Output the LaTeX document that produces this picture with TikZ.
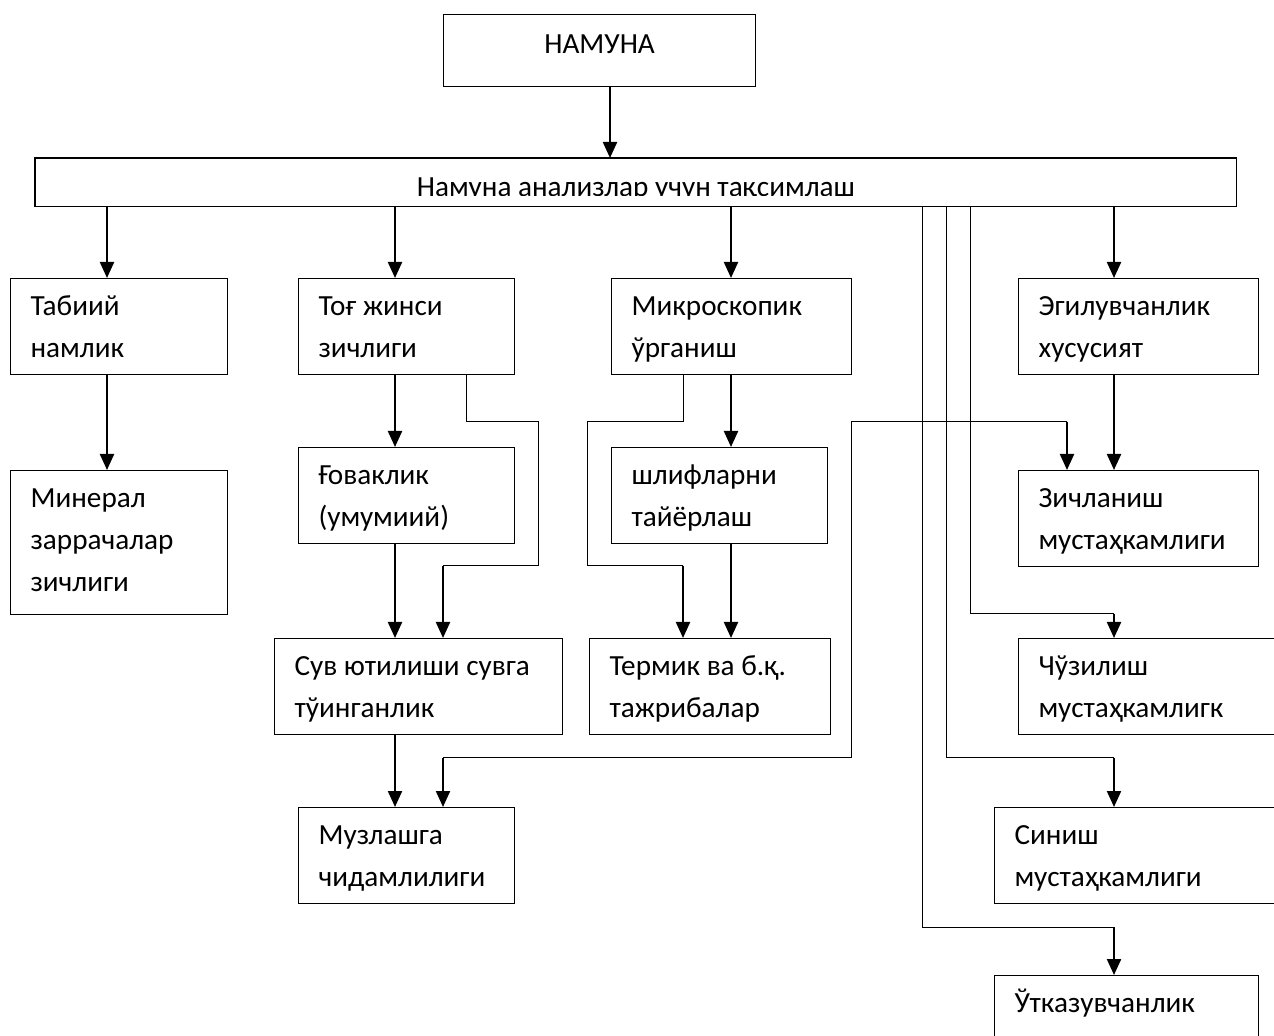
\documentclass[tikz,border=0pt]{standalone}
\usepackage{fontspec}
\setmainfont{Carlito}
\usetikzlibrary{arrows.meta}
\begin{document}
\begin{tikzpicture}[x=0.5pt,y=-0.5pt, font=\fontsize{14.6}{21}\selectfont,
  box/.style={draw, line width=0.6pt, inner xsep=10pt, inner ysep=0pt, align=flush left, anchor=north west, text height=18.5pt},
  two/.style={text depth=29.5pt},
  three/.style={text depth=53.5pt},
  arr/.style={line width=1.1pt, -{Triangle[length=8pt,width=7pt]}},
  link/.style={line width=0.5pt},
  boxline/.style={line width=0.6pt}]
\clip (0,0) rectangle (1274,1036);

% top box
\node[draw, line width=0.6pt, anchor=north west, minimum width=156pt, inner ysep=0pt, text height=19.5pt, text depth=16.5pt] (namuna) at (443,14) {НАМУНА};

% distribution box (text clipped at bottom as in the original)
\begin{scope}
\clip (35,158) rectangle (1236,195.5);
\node[anchor=north west, minimum width=600.5pt, inner xsep=0pt, inner ysep=0pt, text height=19pt, text depth=5pt] (split) at (35,158) {Намуна анализлар учун тақсимлаш};
\end{scope}
\draw[boxline] (split.north west) rectangle (split.south east);

% row 1
\node[box, two, text width=88.5pt] (tabiiy) at (10,278) {Табиий\\намлик};
\node[box, two, text width=88pt] (tog) at (298,278) {Тоғ жинси\\зичлиги};
\node[box, two, text width=100pt] (mikro) at (611,278) {Микроскопик\\ўрганиш};
\node[box, two, text width=100pt] (egil) at (1018,278) {Эгилувчанлик\\хусусият};

% row 2
\node[box, three, text width=88.5pt] (mineral) at (10,470) {Минерал\\заррачалар\\зичлиги};
\node[box, two, text width=88pt] (govak) at (298,447) {Ғоваклик\\(умумиий)};
\node[box, two, text width=88pt] (shlif) at (611,447) {шлифларни\\тайёрлаш};
\node[box, two, text width=100pt] (zich) at (1018,470) {Зичланиш\\мустаҳкамлиги};

% row 3
\node[box, two, text width=124pt] (suv) at (274,638) {Сув ютилиши сувга\\тўинганлик};
\node[box, two, text width=100.5pt] (termik) at (589,638) {Термик ва б.қ.\\тажрибалар};
\node[box, two, text width=116pt] (chuz) at (1018,638) {Чўзилиш\\мустаҳкамлигк};

% row 4
\node[box, two, text width=88pt] (muz) at (298,807) {Музлашга\\чидамлилиги};
\node[box, two, text width=128pt] (sinish) at (994,807) {Синиш\\мустаҳкамлиги};
\node[box, two, text width=112pt] (utkaz) at (994,975) {Ўтказувчанлик\\~};

% column helpers
\coordinate (c610) at (610,0);
\coordinate (c107) at (107,0);
\coordinate (c395) at (395,0);
\coordinate (c731) at (731,0);
\coordinate (c1114) at (1114,0);

% straight arrows
\draw[arr] (namuna.south -| c610) -- (split.north -| c610);
\draw[arr] (split.south -| c107) -- (tabiiy.north -| c107);
\draw[arr] (split.south -| c395) -- (tog.north -| c395);
\draw[arr] (split.south -| c731) -- (mikro.north -| c731);
\draw[arr] (split.south -| c1114) -- (egil.north -| c1114);
\draw[arr] (tabiiy.south -| c107) -- (mineral.north -| c107);
\draw[arr] (tog.south -| c395) -- (govak.north -| c395);
\draw[arr] (govak.south -| c395) -- (suv.north -| c395);
\draw[arr] (suv.south -| c395) -- (muz.north -| c395);
\draw[arr] (mikro.south -| c731) -- (shlif.north -| c731);
\draw[arr] (shlif.south -| c731) -- (termik.north -| c731);
\draw[arr] (egil.south -| c1114) -- (zich.north -| c1114);

% elbow: tog -> suv
\coordinate (t1) at (466,422);
\coordinate (t2) at (538,422);
\coordinate (t3) at (538,566);
\coordinate (t4) at (443,566);
\draw[link] (tog.south -| t1) -- (t1) -- (t2) -- (t3) -- (t4);
\draw[arr] (t4) -- (suv.north -| t4);

% elbow: mikro -> termik
\coordinate (m1) at (683,422);
\coordinate (m2) at (587,422);
\coordinate (m3) at (587,566);
\coordinate (m4) at (683,566);
\draw[link] (mikro.south -| m1) -- (m1) -- (m2) -- (m3) -- (m4);
\draw[arr] (m4) -- (termik.north -| m4);

% elbows from split box
\coordinate (r1) at (970,614);
\coordinate (r2) at (1114,614);
\draw[link] (split.south -| r1) -- (r1) -- (r2);
\draw[arr] (r2) -- (chuz.north -| r2);

\coordinate (s1) at (946,758);
\coordinate (s2) at (1114,758);
\draw[link] (split.south -| s1) -- (s1) -- (s2);
\draw[arr] (s2) -- (sinish.north -| s2);

\coordinate (u1) at (922,927);
\coordinate (u2) at (1114,927);
\draw[link] (split.south -| u1) -- (u1) -- (u2);
\draw[arr] (u2) -- (utkaz.north -| u2);

% two-headed link: muz <-> zich
\coordinate (z1) at (443,758);
\coordinate (z2) at (851,758);
\coordinate (z3) at (851,422);
\coordinate (z4) at (1067,422);
\draw[link] (z1) -- (z2) -- (z3) -- (z4);
\draw[arr] (z1) -- (muz.north -| z1);
\draw[arr] (z4) -- (zich.north -| z4);
\end{tikzpicture}
\end{document}
